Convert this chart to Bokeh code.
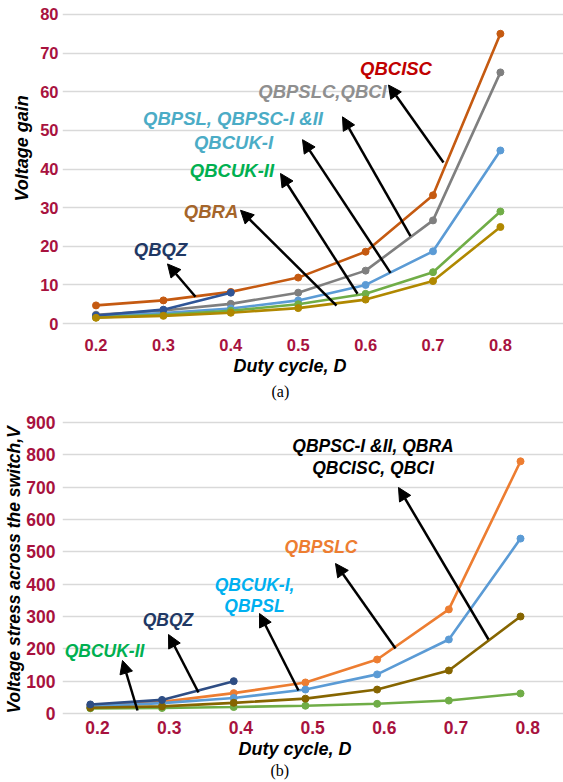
from bokeh.plotting import figure
from bokeh.models import Range1d, FixedTicker, Label, Arrow, NormalHead, Title
from bokeh.layouts import column
from bokeh.embed import file_html
from bokeh.resources import INLINE

# ---------------- data: (a) voltage gain ----------------
duty_a = [0.2, 0.3, 0.4, 0.5, 0.6, 0.7, 0.8]
gain_qbcisc = [4.7, 6.0, 8.2, 11.9, 18.6, 33.2, 75.0]
gain_qbpslc_qbci = [2.3, 3.4, 5.1, 8.0, 13.7, 26.7, 65.0]
gain_qbpsl_qbpsc = [1.9, 2.7, 3.9, 6.0, 10.0, 18.7, 44.8]
gain_qbcuk2 = [1.6, 2.3, 3.3, 5.0, 7.7, 13.3, 29.0]
gain_qbra = [1.5, 2.0, 2.8, 4.0, 6.2, 11.0, 25.0]
duty_a_qbqz = [0.2, 0.3, 0.4]
gain_qbqz = [2.1, 3.6, 8.0]
yticks_a = [0, 10, 20, 30, 40, 50, 60, 70, 80]
xticks_a = [0.2, 0.3, 0.4, 0.5, 0.6, 0.7, 0.8]
xtick_labels = ["0.2", "0.3", "0.4", "0.5", "0.6", "0.7", "0.8"]

# ---------------- data: (b) voltage stress ----------------
duty_b = [0.19, 0.29, 0.39, 0.49, 0.59, 0.69, 0.79]
stress_qbpslc = [25, 36, 63, 96, 167, 322, 780]
stress_qbcuk1_qbpsl = [22, 32, 48, 74, 121, 229, 541]
stress_group = [18, 22, 33, 46, 74, 133, 300]
stress_qbcuk2 = [16, 17, 20, 24, 30, 40, 62]
duty_b_qbqz = [0.19, 0.29, 0.39]
stress_qbqz = [28, 42, 100]
yticks_b = [0, 100, 200, 300, 400, 500, 600, 700, 800, 900]
xticks_b = [0.2, 0.3, 0.4, 0.5, 0.6, 0.7, 0.8]

TICK_COLOR = "#A8123E"
FONT = "Liberation Sans"

# pixel helpers for placing annotations (reference picture coordinates)
def tx(px):
    return 0.2 + (px - 95.5) / 674.0

def ty(py):
    return (325.0 - py) / 3.8875

def bx(px):
    return 0.2 + (px - 97.0) / 717.0

def by(py):
    return (713.0 - py) / 0.32333


def style(p, xticks, yticks, size):
    p.outline_line_color = None
    p.xgrid.grid_line_color = None
    p.ygrid.grid_line_color = "#D9D9D9"
    p.ygrid.grid_line_width = 1.6
    for ax in (p.xaxis[0], p.yaxis[0]):
        ax.axis_line_color = None
        ax.major_tick_line_color = None
        ax.minor_tick_line_color = None
        ax.major_tick_out = 0
        ax.major_tick_in = 0
        ax.major_label_text_color = TICK_COLOR
        ax.major_label_text_font = FONT
        ax.major_label_text_font_style = "bold"
        ax.major_label_text_font_size = size
        ax.major_label_standoff = 4
    p.xaxis[0].ticker = FixedTicker(ticks=xticks)
    p.xaxis[0].major_label_overrides = {t: s for t, s in zip(xticks, xtick_labels)}
    p.yaxis[0].ticker = FixedTicker(ticks=yticks)
    p.yaxis[0].major_label_overrides = {t: str(t) for t in yticks}
    p.xaxis[0].major_label_standoff = 2


def series(p, x, y, color):
    p.line(x, y, line_color=color, line_width=2.6)
    p.scatter(x, y, marker="circle", size=7, fill_color=color, line_color=color)


def txt(p, x, y, text, color, size):
    p.add_layout(Label(x=x, y=y, text=text, text_color=color, text_font=FONT,
                       text_font_style="bold italic", text_font_size=size,
                       text_align="center", text_baseline="middle"))


def arrow(p, x0, y0, x1, y1):
    p.add_layout(Arrow(end=NormalHead(size=13, fill_color="black", line_color="black"),
                       x_start=x0, y_start=y0, x_end=x1, y_end=y1,
                       line_color="black", line_width=2.5))


def title(p, text, place, size, offset, standoff, serif=False):
    p.add_layout(Title(text=text, align="left", offset=offset, standoff=standoff,
                       text_font="Liberation Serif" if serif else FONT,
                       text_font_style="normal" if serif else "bold italic",
                       text_font_size=size, text_color="black"), place)


# ================= figure (a) =================
pa = figure(width=563, height=405, output_backend="svg", toolbar_location=None,
            x_range=Range1d(tx(62), tx(563)), y_range=Range1d(ty(338), ty(4)),
            min_border_left=62, min_border_right=0, min_border_top=4, min_border_bottom=67)
style(pa, xticks_a, yticks_a, "16.5px")

series(pa, duty_a, gain_qbcisc, "#C55A11")
series(pa, duty_a, gain_qbpslc_qbci, "#7F7F7F")
series(pa, duty_a, gain_qbpsl_qbpsc, "#5B9BD5")
series(pa, duty_a, gain_qbcuk2, "#70AD47")
series(pa, duty_a_qbqz, gain_qbqz, "#2F5597")
series(pa, duty_a, gain_qbra, "#B08800")

arrow(pa, tx(195), ty(298), tx(167), ty(265))
arrow(pa, tx(336), ty(307), tx(240), ty(211))
arrow(pa, tx(357), ty(295), tx(280), ty(174))
arrow(pa, tx(390), ty(274), tx(302), ty(140))
arrow(pa, tx(410), ty(237), tx(342), ty(117))
arrow(pa, tx(443), ty(163), tx(388), ty(85))

LS = "18.5px"
txt(pa, tx(395.5), ty(68), "QBCISC", "#C00000", LS)
txt(pa, tx(322), ty(92), "QBPSLC,QBCI", "#8F8F8F", LS)
txt(pa, tx(232.5), ty(119), "QBPSL, QBPSC-I &II", "#4BACC6", LS)
txt(pa, tx(233), ty(143), "QBCUK-I", "#4BACC6", LS)
txt(pa, tx(231.5), ty(171), "QBCUK-II", "#00B050", LS)
txt(pa, tx(210.5), ty(212), "QBRA", "#A5652A", LS)
txt(pa, tx(160), ty(250), "QBQZ", "#1F3864", LS)

title(pa, "Voltage gain", "left", "18px", 135, 12)
title(pa, "Duty cycle, D", "below", "18px", 171, 0)
title(pa, "(a)", "below", "16px", 209, 11, serif=True)

# ================= figure (b) =================
pb = figure(width=563, height=377, output_backend="svg", toolbar_location=None,
            x_range=Range1d(bx(62), bx(563)), y_range=Range1d(by(718), by(411)),
            min_border_left=62, min_border_right=0, min_border_top=6, min_border_bottom=64)
style(pb, xticks_b, yticks_b, "17.5px")
pb.yaxis[0].major_label_standoff = 7

series(pb, duty_b, stress_qbpslc, "#ED7D31")
series(pb, duty_b, stress_qbcuk1_qbpsl, "#5B9BD5")
series(pb, duty_b, stress_qbcuk2, "#70AD47")
series(pb, duty_b, stress_group, "#866500")
series(pb, duty_b_qbqz, stress_qbqz, "#2E4D84")

arrow(pb, bx(137), by(710), bx(122), by(660))
arrow(pb, bx(198), by(692), bx(168), by(634))
arrow(pb, bx(298), by(690), bx(259), by(613))
arrow(pb, bx(395), by(648), bx(335), by(563))
arrow(pb, bx(488), by(639), bx(398), by(487))

LB = "17.5px"
txt(pb, bx(104), by(650), "QBCUK-II", "#00B050", LB)
txt(pb, bx(167.5), by(619), "QBQZ", "#1F3864", LB)
txt(pb, bx(254), by(584), "QBCUK-I,", "#00B0F0", LB)
txt(pb, bx(254), by(605), "QBPSL", "#00B0F0", LB)
txt(pb, bx(320.5), by(546), "QBPSLC", "#ED7D31", LB)
txt(pb, bx(372.5), by(445), "QBPSC-I &II, QBRA", "black", LB)
txt(pb, bx(372.5), by(467), "QBCISC, QBCI", "black", LB)

title(pb, "Voltage stress across the switch,V", "left", "17.5px", 5, 0)
title(pb, "Duty cycle, D", "below", "18px", 176, 0)
title(pb, "(b)", "below", "16px", 208, 2, serif=True)

layout = column(pa, pb, spacing=0)
open("out.html", "w").write(file_html(layout, INLINE))
